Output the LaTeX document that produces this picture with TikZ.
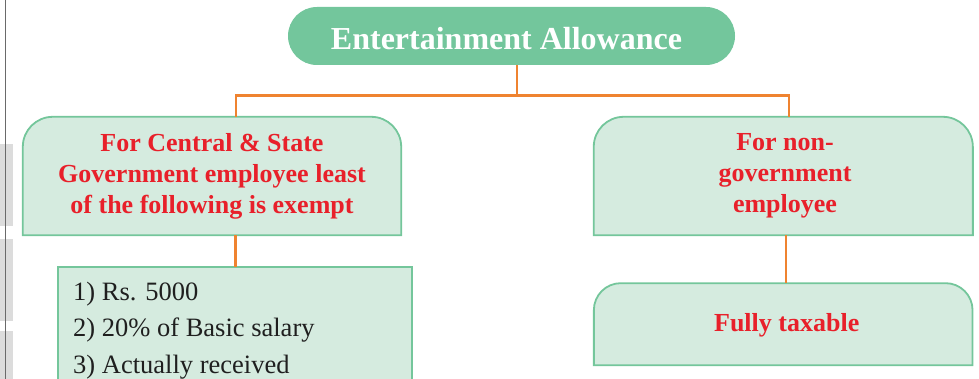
\documentclass[tikz,border=0pt]{standalone}
\usepackage{fontspec}
\setmainfont{Liberation Serif}
\usetikzlibrary{calc}

\definecolor{pillgreen}{HTML}{73C69C}
\definecolor{boxfill}{HTML}{D5EBDF}
\definecolor{boxedge}{HTML}{74C69B}
\definecolor{linkorange}{HTML}{EF8330}
\definecolor{headred}{HTML}{E8202A}
\definecolor{marginline}{HTML}{6A6A6A}
\definecolor{marginblock}{HTML}{DCDCDC}

\tikzset{
  pill/.style={rectangle, rounded corners=28.9pt, fill=pillgreen,
    minimum width=447pt, minimum height=58pt, inner sep=0pt},
  pilltext/.style={text=white, inner sep=0pt,
    text height=26.6pt, text depth=0pt,
    font=\fontsize{32}{36}\selectfont\bfseries},
  frame/.style={rectangle, inner sep=0pt, draw=none},
  boxline/.style={draw=boxedge, fill=boxfill, line width=1.8pt},
  link/.style={draw=linkorange, line width=2.1pt},
  redtext/.style={text=headred, align=center, inner sep=0pt,
    font=\fontsize{26}{31}\selectfont\bfseries},
  listtext/.style={text=black!88, align=left, inner sep=0pt,
    font=\fontsize{26.5}{36.6}\selectfont}
}

\begin{document}
\begin{tikzpicture}[x=1pt,y=-1pt]
\useasboundingbox (0,0) rectangle (979,379);
\clip (0,0) rectangle (979,379);

% page margin strip
\fill[marginblock] (0,144) rectangle (13,226);
\fill[marginblock] (0,239) rectangle (13,321);
\fill[marginblock] (0,331) rectangle (13,379);
\draw[marginline, line width=1.3pt] (5.5,0) -- (5.5,379);

% heading
\node[pill] (title) at (511.5,36) {};
\node[pilltext] (titletext) at (506.5,36) {Entertainment Allowance};

% frames of the four boxes
\node[frame, minimum width=378pt, minimum height=118pt] (cg) at (212,176) {};
\node[frame, minimum width=378.7pt, minimum height=118pt] (ng) at (783.3,176) {};
\node[frame, minimum width=353.4pt, minimum height=140pt] (lim) at (235,337.3) {};
\node[frame, minimum width=378.3pt, minimum height=81.7pt] (tax) at (783.2,324.2) {};

% boxes with rounded top corners
\draw[boxline] (cg.south west) -- ([yshift=-30pt]cg.north west)
  arc[start angle=180, end angle=90, radius=30pt]
  -- ([xshift=-30pt]cg.north east)
  arc[start angle=90, end angle=0, radius=30pt] -- (cg.south east) -- cycle;
\draw[boxline] (ng.south west) -- ([yshift=-30pt]ng.north west)
  arc[start angle=180, end angle=90, radius=30pt]
  -- ([xshift=-30pt]ng.north east)
  arc[start angle=90, end angle=0, radius=30pt] -- (ng.south east) -- cycle;
\draw[boxline] (tax.south west) -- ([yshift=-27pt]tax.north west)
  arc[start angle=180, end angle=90, radius=27pt]
  -- ([xshift=-27pt]tax.north east)
  arc[start angle=90, end angle=0, radius=27pt] -- (tax.south east) -- cycle;
\draw[boxline] (lim.south west) rectangle (lim.north east);

% box texts
\node[redtext] (cgt) at (212,176) {For Central \& State\\Government employee least\\of the following is exempt};
\node[redtext] (ngt) at (785,176) {For non-\\government\\employee};
\node[redtext] (taxt) at (786.7,325.6) {Fully taxable};
\node[listtext, anchor=north west] (limt) at (73,281.6) {1) Rs. 5000\\2) 20\% of Basic salary\\3) Actually received};

% connectors
\coordinate (barL) at (236,95.5);
\coordinate (barR) at (789,95.5);
\coordinate (stemL) at (235.5,250);
\coordinate (stemR) at (785.7,260);
\draw[link] (title.south -| 516.7,0) -- (516.7,95.5);
\draw[link] (barL |- cg.north) -- (barL) -- (barR) -- (barR |- ng.north);
\draw[link] (stemL |- cg.south) -- (stemL |- lim.north);
\draw[link] (stemR |- ng.south) -- (stemR |- tax.north);
\end{tikzpicture}
\end{document}
